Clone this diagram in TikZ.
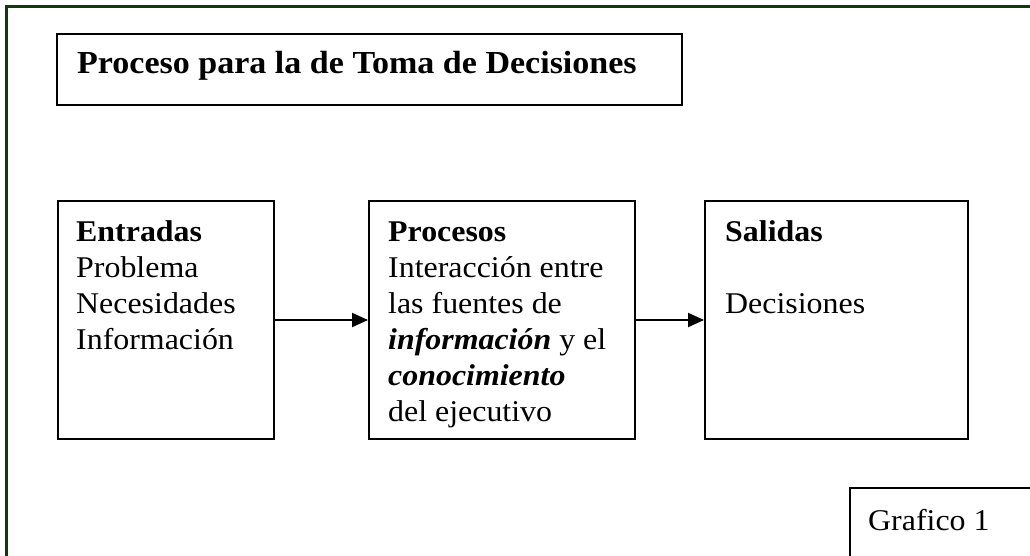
\documentclass[tikz,border=0pt]{standalone}
\usepackage{fontspec}
\setmainfont{Liberation Serif}[FakeStretch=1.06]
\usetikzlibrary{arrows.meta}
\definecolor{framegreen}{RGB}{16,58,12}
\begin{document}
\begin{tikzpicture}[x=1pt,y=-1pt,
  box/.style={draw=black,line width=2pt,inner sep=0pt,anchor=north west},
  txt/.style={anchor=base west,inner sep=0pt,font=\fontsize{30.1}{36}\selectfont},
  ttl/.style={anchor=base west,inner sep=0pt,font=\fontsize{32.1}{36}\selectfont\bfseries},
  arr/.style={line width=2pt,-{Triangle[length=16pt,width=14pt]}}]
\useasboundingbox (0,0) rectangle (1030,555);
\clip (0,0) rectangle (1030,555);
\fill[white] (0,0) rectangle (1030,555);
\draw[framegreen,line width=2.5pt] (6.7,600) -- (6.7,6.7) -- (1100,6.7);

% boxes
\node[box,minimum width=625pt,minimum height=71pt] (title) at (55.5,32.5) {};
\node[box,minimum width=216pt,minimum height=238pt] (entradas) at (56.5,200) {};
\node[box,minimum width=266pt,minimum height=238pt] (procesos) at (368,200) {};
\node[box,minimum width=263pt,minimum height=238pt] (salidas) at (704,200) {};
\node[box,minimum width=250pt,minimum height=120pt] (grafico) at (849,487) {};

% arrows
\draw[arr] (entradas.east) -- (procesos.west);
\draw[arr] (procesos.east) -- (salidas.west);

% texts
\node[ttl] (t0) at (77,73) {Proceso para la de Toma de Decisiones};

\node[txt] (e1) at (76,241) {\textbf{Entradas}};
\node[txt] (e2) at (76,277) {Problema};
\node[txt] (e3) at (76,313) {Necesidades};
\node[txt] (e4) at (76,349) {Información};

\node[txt] (p1) at (388,241) {\textbf{Procesos}};
\node[txt] (p2) at (388,277) {Interacción entre};
\node[txt] (p3) at (388,313) {las fuentes de};
\node[txt] (p4) at (388,349) {\textbf{\textit{información}} y el};
\node[txt] (p5) at (388,385) {\textbf{\textit{conocimiento}}};
\node[txt] (p6) at (388,421) {del ejecutivo};

\node[txt] (s1) at (725,241) {\textbf{Salidas}};
\node[txt] (s2) at (725,313) {Decisiones};

\node[txt] (g1) at (868,530) {Grafico 1};
\end{tikzpicture}
\end{document}
